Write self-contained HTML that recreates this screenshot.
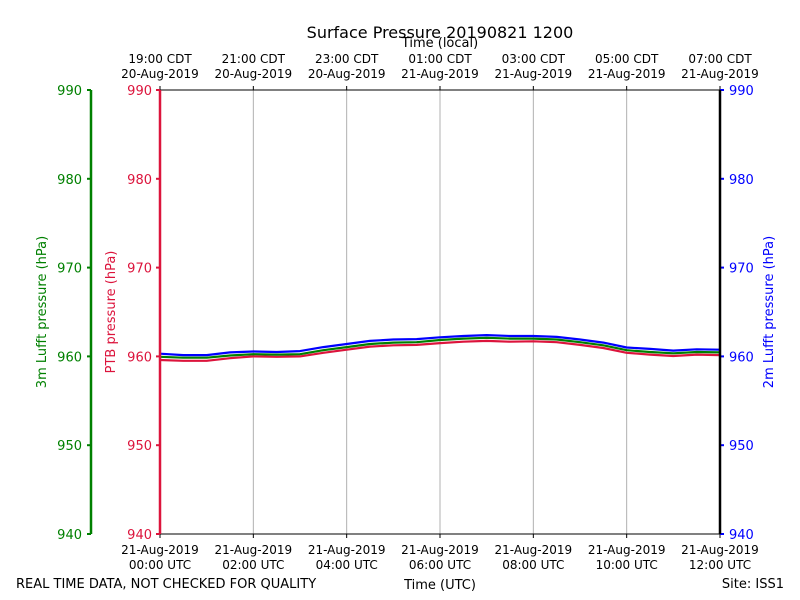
<!DOCTYPE html>
<html><head><meta charset="utf-8"><style>
body{margin:0;background:#fff}
svg{display:block;font-family:"DejaVu Sans","Liberation Sans",sans-serif}
</style></head><body>
<svg id="chart" width="800" height="600" viewBox="0 0 800 600" xmlns="http://www.w3.org/2000/svg">
<rect width="800" height="600" fill="#fff"/>
<text x="440" y="38" font-size="16" text-anchor="middle">Surface Pressure 20190821 1200</text>
<text x="440" y="47" font-size="13" text-anchor="middle">Time (local)</text>
<text x="440" y="589" font-size="13" text-anchor="middle">Time (UTC)</text>
<text x="16" y="588" font-size="13">REAL TIME DATA, NOT CHECKED FOR QUALITY</text>
<text x="784" y="588" font-size="13" text-anchor="end">Site: ISS1</text>
<text transform="translate(46,312) rotate(-90)" font-size="13" fill="green" text-anchor="middle">3m Lufft pressure (hPa)</text>
<text transform="translate(115,312) rotate(-90)" font-size="13" fill="crimson" text-anchor="middle">PTB pressure (hPa)</text>
<text transform="translate(773,312) rotate(-90)" font-size="13" fill="blue" text-anchor="middle">2m Lufft pressure (hPa)</text>
<g id="grid"></g><g id="axes"></g><g id="series"></g><g id="frame"></g>
</svg>
<script>
const hours=[0,0.5,1,1.5,2,2.5,3,3.5,4,4.5,5,5.5,6,6.5,7,7.5,8,8.5,9,9.5,10,10.5,11,11.5,12];
const blue2m=[960.3,960.15,960.15,960.45,960.55,960.5,960.6,961.05,961.4,961.75,961.9,961.95,962.15,962.3,962.4,962.3,962.3,962.2,961.9,961.55,961.0,960.85,960.65,960.8,960.75];
const green3m=[959.95,959.85,959.85,960.1,960.25,960.2,960.25,960.7,961.05,961.4,961.55,961.6,961.85,962.0,962.1,962.0,962.0,961.9,961.6,961.25,960.7,960.5,960.35,960.5,960.45];
const redPTB=[959.6,959.5,959.5,959.8,960.0,959.95,960.0,960.4,960.75,961.1,961.25,961.3,961.5,961.65,961.75,961.65,961.7,961.6,961.3,960.95,960.4,960.2,960.05,960.2,960.15];
const yTicks=[940,950,960,970,980,990];
const utcLabels=[["21-Aug-2019","00:00 UTC"],["21-Aug-2019","02:00 UTC"],["21-Aug-2019","04:00 UTC"],["21-Aug-2019","06:00 UTC"],["21-Aug-2019","08:00 UTC"],["21-Aug-2019","10:00 UTC"],["21-Aug-2019","12:00 UTC"]];
const localLabels=[["19:00 CDT","20-Aug-2019"],["21:00 CDT","20-Aug-2019"],["23:00 CDT","20-Aug-2019"],["01:00 CDT","21-Aug-2019"],["03:00 CDT","21-Aug-2019"],["05:00 CDT","21-Aug-2019"],["07:00 CDT","21-Aug-2019"]];
const tickHours=[0,2,4,6,8,10,12];

const X0=160,X1=720,Y0=534,Y1=90;
const xs=h=>X0+(h-0)/12*(X1-X0);
const ys=v=>Y0-(v-940)/50*(Y0-Y1);
const NS="http://www.w3.org/2000/svg";
function mk(tag,attrs,parent,txt){const e=document.createElementNS(NS,tag);for(const k in attrs)e.setAttribute(k,attrs[k]);if(txt!==undefined)e.textContent=txt;parent.appendChild(e);return e;}
const grid=document.getElementById('grid'),axes=document.getElementById('axes'),series=document.getElementById('series'),frame=document.getElementById('frame');

tickHours.forEach((h,i)=>{
  const x=xs(h);
  if(i>0&&i<tickHours.length-1){const g=mk('line',{x1:x,x2:x,y1:Y1,y2:Y0,stroke:'#b0b0b0','stroke-width':1},grid);
  
  }
  mk('line',{x1:x,x2:x,y1:Y0,y2:Y0+4,stroke:'#000'},axes);
  mk('line',{x1:x,x2:x,y1:Y1,y2:Y1-4,stroke:'#000'},axes);
  const t=mk('text',{x:x,y:554,'font-size':12,'text-anchor':'middle'},axes);
  
  
  mk('tspan',{x:x,dy:0},t,utcLabels[i][0]);mk('tspan',{x:x,dy:15},t,utcLabels[i][1]);
  const l=mk('text',{x:x,y:63,'font-size':12,'text-anchor':'middle'},axes);
  
  
  mk('tspan',{x:x,dy:0},l,localLabels[i][0]);mk('tspan',{x:x,dy:15},l,localLabels[i][1]);
});
yTicks.forEach(v=>{
  const y=ys(v);
  mk('line',{x1:91,x2:87,y1:y,y2:y,stroke:'green','stroke-width':2},axes);
  mk('line',{x1:160,x2:156,y1:y,y2:y,stroke:'crimson','stroke-width':2},axes);
  mk('line',{x1:720,x2:724,y1:y,y2:y,stroke:'blue','stroke-width':2},axes);
  const a=mk('text',{x:82,y:y+5,'font-size':13,fill:'green','text-anchor':'end'},axes,v);
  
  
  const b=mk('text',{x:152,y:y+5,'font-size':13,fill:'crimson','text-anchor':'end'},axes,v);
  
  
  const c=mk('text',{x:729,y:y+5,'font-size':13,fill:'blue'},axes,v);
  
  
});
function line(vals,color,name){
  const d=hours.map((h,i)=>(i?'L':'M')+xs(h).toFixed(1)+','+ys(vals[i]).toFixed(1)).join('');
  const p=mk('path',{d:d,fill:'none',stroke:color,'stroke-width':2.2,'stroke-linejoin':'round'},series);
  
  
}
line(redPTB,'crimson','ptb-pressure-line');
line(green3m,'green','lufft-3m-pressure-line');
line(blue2m,'blue','lufft-2m-pressure-line');
mk('line',{x1:X0,x2:X1,y1:Y1,y2:Y1,stroke:'#000'},frame);
mk('line',{x1:X0,x2:X1,y1:Y0,y2:Y0,stroke:'#000'},frame);
mk('line',{x1:X0,x2:X0,y1:Y1,y2:Y0,stroke:'crimson','stroke-width':2.5},frame);
mk('line',{x1:X1,x2:X1,y1:Y1,y2:Y0,stroke:'#000','stroke-width':2.5},frame);
mk('line',{x1:91,x2:91,y1:Y1,y2:Y0,stroke:'green','stroke-width':2.5},frame);
</script>
</body></html>
